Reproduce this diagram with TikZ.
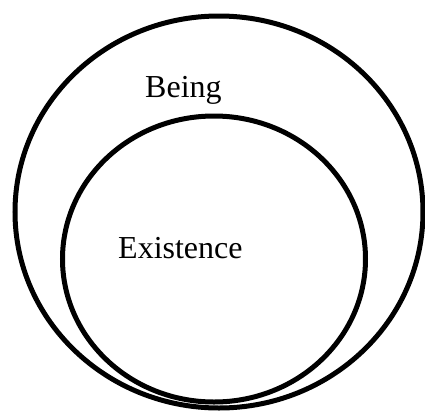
\documentclass[tikz,border=0pt]{standalone}
\usepackage{fontspec}
\setmainfont{Liberation Serif}
\usetikzlibrary{shapes.geometric}
\begin{document}
\begin{tikzpicture}[x=1bp,y=-1bp,
  ring/.style={draw=black,line width=5bp,ellipse,inner sep=0pt},
  lbl/.style={anchor=base west,inner sep=0pt,font=\fontsize{32bp}{36bp}\selectfont}]
\useasboundingbox (0,0) rectangle (425,411);
\node[ring,minimum width=408bp,minimum height=392bp] (outer) at (219,212) {};
\node[ring,minimum width=303bp,minimum height=286bp] (inner) at (214,259) {};
\node[lbl] (being) at (145,97.5) {Being};
\node[lbl] (exist) at (118,258) {Existence};
\end{tikzpicture}
\end{document}
